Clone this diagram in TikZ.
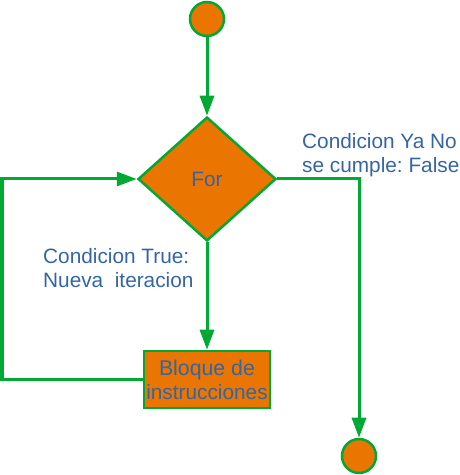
\documentclass[tikz,border=0pt]{standalone}
\usepackage{fontspec}
\setmainfont{Liberation Sans}
\frenchspacing
\definecolor{forOrange}{RGB}{234, 117, 0}
\definecolor{forGreen}{RGB}{0, 169, 51}
\definecolor{forBlue}{RGB}{52, 101, 164}
\usetikzlibrary{shapes.geometric, arrows.meta, positioning, calc}

\begin{document}
\begin{tikzpicture}[x=1pt, y=1pt,
    every node/.style={font=\fontsize{20.8}{24}\selectfont, text=forBlue},
    terminal/.style={circle, draw=forGreen, line width=2.5pt, fill=forOrange, minimum size=34pt, inner sep=0},
    decision/.style={diamond, draw=forGreen, line width=2.5pt, fill=forOrange, minimum width=138pt, minimum height=124pt, inner sep=0},
    process/.style={rectangle, draw=forGreen, line width=2.5pt, fill=forOrange, minimum width=126pt, minimum height=57pt, inner sep=0, align=center},
    flow/.style={draw=forGreen, line width=3pt, -{Triangle[length=20pt, width=14pt]}},
    note/.style={anchor=west, inner sep=0, align=left}
  ]
    \useasboundingbox (0,0) rectangle (460,475);

    \node[terminal] (start) at (207,456) {};
    \node[decision] (for) at (207,296) {For};
    \node[process] (body) at (207,95.5) {\fontsize{21.3}{24}\selectfont Bloque de\\instrucciones};
    \node[terminal] (stop) at (359,19) {};

    \coordinate (loopL) at (2,95.5);
    \coordinate (loopT) at (2,296);
    \coordinate (exitR) at (359,296);

    \draw[flow] (start) -- (for);
    \draw[flow] (for) -- (body);
    \draw[flow] (body.west) -- (loopL) -- (loopT) -- (for.west);
    \draw[flow] (for.east) -- (exitR) -- (stop);

    \node[note] (falsenote) at (302,320) {Condicion Ya No\\se cumple: False};
    \node[note] (truenote) at (43,206.5) {Condicion True:\\Nueva\ \ iteracion};
  \end{tikzpicture}
\end{document}
